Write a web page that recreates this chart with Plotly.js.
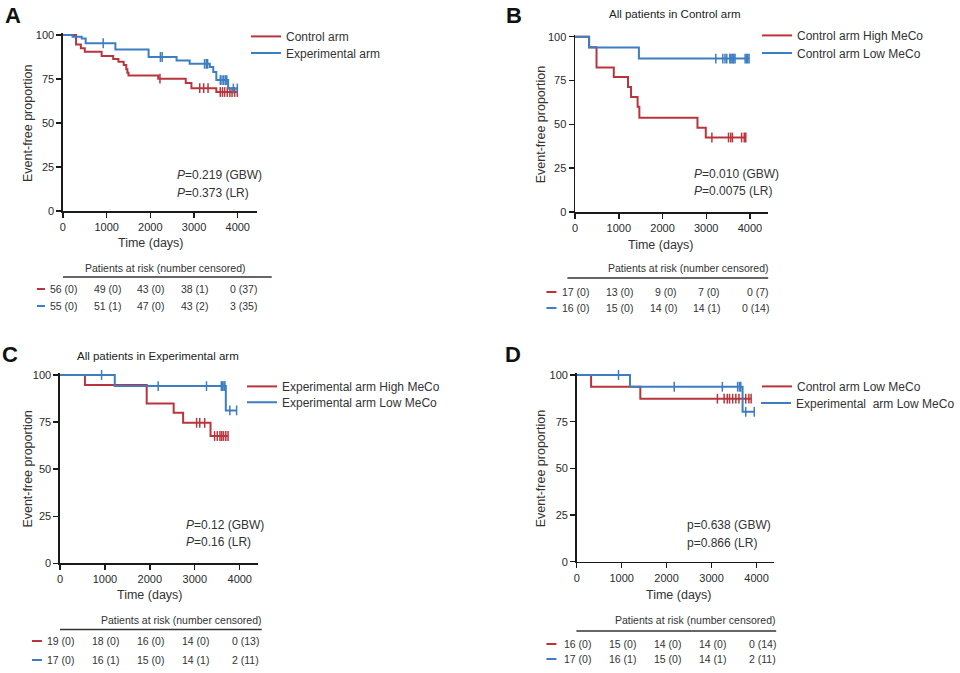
<!DOCTYPE html>
<html><head><meta charset="utf-8">
<script src="https://cdn.plot.ly/plotly-3.0.1.min.js"></script>
<style>html,body{margin:0;padding:0;background:#fff}#chart{width:960px;height:673px}</style>
</head><body><div id="chart"></div>
<script>
// ---------------- DATA ----------------
const timeTicks = [0, 1000, 2000, 3000, 4000];
const yTicks = [0, 25, 50, 75, 100];

// Panel A: Control arm vs Experimental arm
const aCtrlName = "Control arm";
const aCtrlT = [0, 300, 410, 500, 885, 1150, 1270, 1390, 1450, 1475, 1500, 2180, 2810, 2940, 3510, 3990];
const aCtrlS = [100, 94.6, 92.5, 90.5, 88.0, 86.4, 84.8, 83.0, 80.5, 78.5, 77.0, 75.2, 72.7, 69.8, 67.6, 67.6];
const aCtrlCens = [2220, 3130, 3220, 3320, 3600, 3650, 3700, 3760, 3820, 3870, 3930, 3990];
const aExpName = "Experimental arm";
const aExpT = [0, 220, 430, 520, 1200, 1960, 2600, 2900, 3360, 3440, 3510, 3780, 3990];
const aExpS = [100, 99.0, 98.0, 95.3, 91.7, 87.5, 85.5, 83.6, 81.8, 79.0, 74.4, 69.6, 69.6];
const aExpCens = [921, 2230, 2270, 3240, 3280, 3310, 3600, 3640, 3680, 3720, 3750, 3900, 3990];
const aRiskCtrl = ["56 (0)", "49 (0)", "43 (0)", "38 (1)", "0 (37)"];
const aRiskExp = ["55 (0)", "51 (1)", "47 (0)", "43 (2)", "3 (35)"];
const aP = ["<i>P</i>=0.219 (GBW)", "<i>P</i>=0.373 (LR)"];

// Panel B: All patients in Control arm
const bTitle = "All patients in Control arm";
const bHighName = "Control arm High MeCo";
const bHighT = [0, 320, 490, 885, 1210, 1280, 1430, 1470, 2800, 2990, 3905];
const bHighS = [100, 94.0, 82.5, 77.0, 71.3, 65.6, 60.0, 53.8, 48.0, 42.5, 42.5];
const bHighCens = [3130, 3510, 3560, 3600, 3810, 3870, 3905];
const bLowName = "Control arm Low MeCo";
const bLowT = [0, 320, 1460, 3980];
const bLowS = [100, 93.8, 87.5, 87.5];
const bLowCens = [3220, 3380, 3430, 3470, 3540, 3560, 3590, 3610, 3630, 3660, 3890, 3920, 3950, 3980];
const bRiskHigh = ["17 (0)", "13 (0)", "9 (0)", "7 (0)", "0 (7)"];
const bRiskLow = ["16 (0)", "15 (0)", "14 (0)", "14 (1)", "0 (14)"];
const bP = ["<i>P</i>=0.010 (GBW)", "<i>P</i>=0.0075 (LR)"];

// Panel C: All patients in Experimental arm
const cTitle = "All patients in Experimental arm";
const cHighName = "Experimental arm High MeCo";
const cHighT = [0, 556, 1930, 2530, 2740, 3350, 3740];
const cHighS = [100, 94.7, 84.9, 79.9, 74.6, 67.6, 67.6];
const cHighCens = [3040, 3110, 3220, 3440, 3500, 3560, 3600, 3640, 3690, 3740];
const cLowName = "Experimental arm Low MeCo";
const cLowT = [0, 1220, 3690, 3930];
const cLowS = [100, 94.1, 81.2, 81.2];
const cLowCens = [926, 2185, 3260, 3590, 3620, 3650, 3670, 3780, 3930];
const cRiskHigh = ["19 (0)", "18 (0)", "16 (0)", "14 (0)", "0 (13)"];
const cRiskLow = ["17 (0)", "16 (1)", "15 (0)", "14 (1)", "2 (11)"];
const cP = ["<i>P</i>=0.12 (GBW)", "<i>P</i>=0.16 (LR)"];

// Panel D: Low MeCo, Control vs Experimental
const dCtrlName = "Control arm Low MeCo";
const dCtrlT = [0, 320, 1415, 3880];
const dCtrlS = [100, 93.7, 87.3, 87.3];
const dCtrlCens = [3130, 3280, 3350, 3400, 3470, 3540, 3610, 3760, 3830, 3880];
const dExpName = "Experimental  arm Low MeCo";
const dExpT = [0, 1185, 3690, 3950];
const dExpS = [100, 93.7, 80.3, 80.3];
const dExpCens = [930, 2170, 3240, 3580, 3620, 3650, 3760, 3950];
const dRiskCtrl = ["16 (0)", "15 (0)", "14 (0)", "14 (0)", "0 (14)"];
const dRiskExp = ["17 (0)", "16 (1)", "15 (0)", "14 (1)", "2 (11)"];
const dP = ["p=0.638 (GBW)", "p=0.866 (LR)"];

// ---------------- STYLE / LAYOUT ----------------
const W = 960, H = 673;
const RED = "#b8353d", BLUE = "#3d7dc2";
const FONT = "Liberation Sans, Arial, Helvetica, sans-serif";
const TXT = "#333333";
const X = px => px / W;
const Y = py => 1 - py / H;

const panels = [
  {letter:"A", px0:63, px4000:238, pxEnd:257, py0:211, py100:35,
   series:[[aCtrlName,aCtrlT,aCtrlS,aCtrlCens,RED],[aExpName,aExpT,aExpS,aExpCens,BLUE]],
   risk:[aRiskCtrl,aRiskExp], p:aP, title:null,
   letterPos:[13,15], ytitleX:28, timePos:[151,243], pPos:[175,175,193],
   riskHead:[165,268], riskLine:[63,272,277], riskRows:[289,306], dash:[37,45],
   legendX:286, legendRows:[36.7,53.3]},
  {letter:"B", px0:575.7, px4000:750.7, pxEnd:769, py0:212, py100:36.7,
   series:[[bHighName,bHighT,bHighS,bHighCens,RED],[bLowName,bLowT,bLowS,bLowCens,BLUE]],
   risk:[bRiskHigh,bRiskLow], p:bP, title:[bTitle,676,13.5],
   letterPos:[515,15], ytitleX:541.5, timePos:[662,245], pPos:[693,174,191],
   riskHead:[689,268], riskLine:[568,769,278], riskRows:[292,308], dash:[547,557],
   legendX:797, legendRows:[35.7,53.3]},
  {letter:"C", px0:60, px4000:240, pxEnd:258, py0:563.3, py100:375,
   series:[[cHighName,cHighT,cHighS,cHighCens,RED],[cLowName,cLowT,cLowS,cLowCens,BLUE]],
   risk:[cRiskHigh,cRiskLow], p:cP, title:[cTitle,158,356],
   letterPos:[10,354], ytitleX:28.5, timePos:[150,595], pPos:[184,525,542],
   riskHead:[181,620], riskLine:[60,262,629.5], riskRows:[641,660], dash:[32,42],
   legendX:282, legendRows:[386.7,402.5]},
  {letter:"D", px0:577.3, px4000:757.3, pxEnd:775, py0:561.7, py100:375,
   series:[[dCtrlName,dCtrlT,dCtrlS,dCtrlCens,RED],[dExpName,dExpT,dExpS,dExpCens,BLUE]],
   risk:[dRiskCtrl,dRiskExp], p:dP, title:null,
   letterPos:[514,354], ytitleX:541.5, timePos:[680,595], pPos:[686,525,543],
   riskHead:[696,620], riskLine:[577,777,631], riskRows:[644,659], dash:[547,557],
   legendX:797, legendRows:[386.7,403.3]}
];

const YMAX = 101;
function stepAt(t, s, x) {
  let v = s[0];
  for (let i = 0; i < t.length; i++) { if (t[i] <= x) v = s[i]; }
  return v;
}

const data = [];
const layout = {
  width: W, height: H, margin: {l:0, r:0, t:0, b:0},
  paper_bgcolor: "#ffffff", plot_bgcolor: "rgba(0,0,0,0)",
  font: {family: FONT, color: TXT, size: 12},
  showlegend: true, annotations: [], shapes: []
};

let legendCount = 0;
panels.forEach((p, i) => {
  const n = i + 1;
  const xa = "xaxis" + (n === 1 ? "" : n), ya = "yaxis" + (n === 1 ? "" : n);
  const xr = "x" + (n === 1 ? "" : n), yr = "y" + (n === 1 ? "" : n);
  const xMax = 4000 * (p.pxEnd - p.px0) / (p.px4000 - p.px0);
  const pyTop = p.py0 - (p.py0 - p.py100) * YMAX / 100;
  const axCommon = {
    showline: true, linecolor: "#1a1a1a", linewidth: 1.6, mirror: false,
    ticks: "outside", ticklen: 5, tickwidth: 1.4, tickcolor: "#1a1a1a",
    showgrid: false, zeroline: false, fixedrange: true,
    tickfont: {family: FONT, size: 11, color: "#2a2a2a"}
  };
  layout[xa] = Object.assign({}, axCommon, {
    domain: [X(p.px0), X(p.pxEnd)], range: [0, xMax], anchor: yr,
    tickmode: "array", tickvals: timeTicks, ticktext: timeTicks.map(String)
  });
  layout[ya] = Object.assign({}, axCommon, {
    domain: [Y(p.py0), Y(pyTop)], range: [0, YMAX], anchor: xr,
    tickmode: "array", tickvals: yTicks, ticktext: yTicks.map(String)
  });

  p.series.forEach(([name, t, s, cens, color], k) => {
    legendCount += 1;
    const leg = "legend" + (legendCount === 1 ? "" : legendCount);
    data.push({type: "scatter", mode: "lines", x: t, y: s, name: name,
      line: {shape: "hv", color: color, width: 2}, xaxis: xr, yaxis: yr,
      legend: leg, hoverinfo: "skip"});
    data.push({type: "scatter", mode: "markers", x: cens, y: cens.map(c => stepAt(t, s, c)),
      marker: {symbol: "line-ns", size: 7, color: color, line: {color: color, width: 1.5}},
      showlegend: false, cliponaxis: false, xaxis: xr, yaxis: yr, hoverinfo: "skip"});
    layout[leg] = {x: X(p.legendX - 40), y: Y(p.legendRows[k] - 14.8), xanchor: "left", yanchor: "top",
      bgcolor: "rgba(0,0,0,0)", borderwidth: 0, font: {family: FONT, size: 12, color: TXT},
      itemclick: false, itemdoubleclick: false};
  });

  const A = layout.annotations;
  A.push({text: "<b>" + p.letter + "</b>", xref: "paper", yref: "paper", x: X(p.letterPos[0]), y: Y(p.letterPos[1]),
    xanchor: "center", yanchor: "middle", showarrow: false, font: {family: FONT, size: 22, color: "#111"}});
  if (p.title) A.push({text: p.title[0], xref: "paper", yref: "paper", x: X(p.title[1]), y: Y(p.title[2]),
    xanchor: "center", yanchor: "middle", showarrow: false, font: {family: FONT, size: 11.5, color: "#222"}});
  A.push({text: "Event-free proportion", xref: "paper", yref: "paper", x: X(p.ytitleX), y: Y((p.py0 + p.py100) / 2),
    textangle: -90, xanchor: "center", yanchor: "middle", showarrow: false, font: {family: FONT, size: 12.5, color: TXT}});
  A.push({text: "Time (days)", xref: "paper", yref: "paper", x: X(p.timePos[0]), y: Y(p.timePos[1]),
    xanchor: "center", yanchor: "middle", showarrow: false, font: {family: FONT, size: 12.5, color: TXT}});
  p.p.forEach((txt, k) => A.push({text: txt, xref: "paper", yref: "paper", x: X(p.pPos[0]), y: Y(p.pPos[k + 1]),
    xanchor: "left", yanchor: "middle", showarrow: false, font: {family: FONT, size: 12, color: TXT}}));
  A.push({text: "Patients at risk (number censored)", xref: "paper", yref: "paper", x: X(p.riskHead[0]), y: Y(p.riskHead[1]),
    xanchor: "center", yanchor: "middle", showarrow: false, font: {family: FONT, size: 10.5, color: TXT}});
  layout.shapes.push({type: "line", xref: "paper", yref: "paper", x0: X(p.riskLine[0]), x1: X(p.riskLine[1]),
    y0: Y(p.riskLine[2]), y1: Y(p.riskLine[2]), line: {color: "#333", width: 1.5}});
  p.risk.forEach((row, r) => {
    const color = r === 0 ? RED : BLUE;
    layout.shapes.push({type: "line", xref: "paper", yref: "paper", x0: X(p.dash[0]), x1: X(p.dash[1]),
      y0: Y(p.riskRows[r]), y1: Y(p.riskRows[r]), line: {color: color, width: 2}});
    row.forEach((txt, c) => A.push({text: txt, xref: xr, yref: "paper", x: timeTicks[c], y: Y(p.riskRows[r]),
      xanchor: "right", yanchor: "middle", xshift: c === 4 ? 21 : 16, showarrow: false,
      font: {family: FONT, size: 10.5, color: TXT}}));
  });
});

Plotly.newPlot("chart", data, layout, {staticPlot: true, displayModeBar: false});
</script>
</body></html>
